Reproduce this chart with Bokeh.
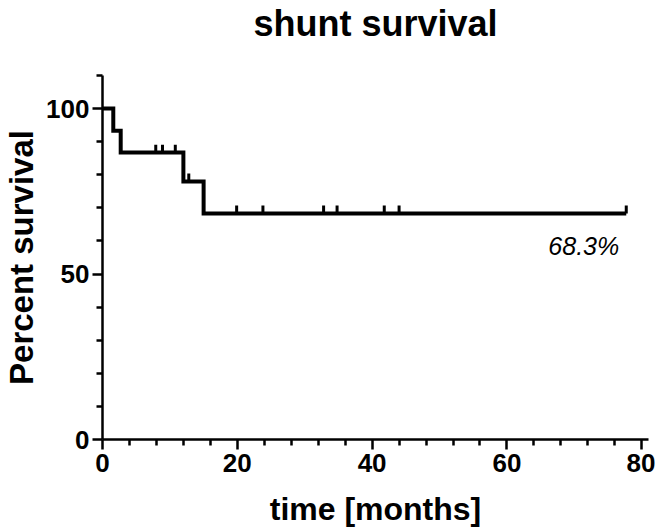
from bokeh.plotting import figure
from bokeh.models import Range1d, FixedTicker, Label, Title
from bokeh.embed import file_html
from bokeh.resources import INLINE

# Kaplan-Meier step data (months, percent survival)
step_time = [0, 1.6, 2.7, 12.0, 15.0, 77.7]
step_surv = [100, 93.3, 86.7, 78.0, 68.3, 68.3]

# censored observations
censor_time = [7.9, 8.9, 10.8, 12.8, 19.9, 23.8, 32.8, 34.8, 41.8, 44.0, 77.7]
censor_surv = [86.7, 86.7, 86.7, 78.0, 68.3, 68.3, 68.3, 68.3, 68.3, 68.3, 68.3]

x_ticks = [0, 20, 40, 60, 80]
x_minor = [4, 8, 12, 16, 24, 28, 32, 36, 44, 48, 52, 56, 64, 68, 72, 76]
y_ticks = [0, 50, 100]
y_minor = [10, 20, 30, 40, 60, 70, 80, 90, 110]

title_text = "shunt survival"
x_label_text = "time [months]"
y_label_text = "Percent survival"
final_label = "68.3%"
final_label_pos = (71.4, 58.4)

FONT = "Liberation Sans"

p = figure(width=655, height=531, output_backend="svg", toolbar_location=None,
           x_range=Range1d(0, 81), y_range=Range1d(0, 110),
           min_border_left=101, min_border_right=7, min_border_top=74, min_border_bottom=92)
p.outline_line_color = None
p.grid.visible = False
p.background_fill_color = "white"

# empty spacer between the title and the frame
spacer = Title(text=" ", text_font=FONT, text_font_size="26px", standoff=0)
p.add_layout(spacer, "above")

p.title.text = title_text
p.title.align = "center"
p.title.text_font = FONT
p.title.text_font_size = "36px"
p.title.text_font_style = "bold"
p.title.text_color = "black"
p.title.standoff = 0

for ax in (p.xaxis[0], p.yaxis[0]):
    ax.axis_line_width = 2.5
    ax.axis_line_color = "black"
    ax.major_tick_line_width = 2.5
    ax.minor_tick_line_width = 2.5
    ax.major_tick_out = 10
    ax.major_tick_in = 0
    ax.minor_tick_out = 6
    ax.minor_tick_in = 0
    ax.major_label_text_font = FONT
    ax.major_label_text_font_size = "26px"
    ax.major_label_text_font_style = "bold"
    ax.major_label_text_color = "black"
    ax.axis_label_text_font = FONT
    ax.axis_label_text_font_style = "bold"
    ax.axis_label_text_color = "black"

p.xaxis[0].ticker = FixedTicker(ticks=x_ticks, minor_ticks=x_minor)
p.yaxis[0].ticker = FixedTicker(ticks=y_ticks, minor_ticks=y_minor)
p.xaxis[0].axis_label = x_label_text
p.yaxis[0].axis_label = y_label_text
p.xaxis[0].axis_label_text_font_size = "32px"
p.yaxis[0].axis_label_text_font_size = "33px"
p.xaxis[0].major_label_standoff = 4
p.yaxis[0].major_label_standoff = 3
p.xaxis[0].axis_label_standoff = 16
p.yaxis[0].axis_label_standoff = 3

p.step(step_time, step_surv, mode="after", line_width=4, line_color="black",
       line_join="miter")

tick_h = 2.4
p.segment(x0=censor_time, y0=censor_surv, x1=censor_time,
          y1=[s + tick_h for s in censor_surv], line_width=3, line_color="black")

p.add_layout(Label(x=final_label_pos[0], y=final_label_pos[1], text=final_label,
                   text_font=FONT, text_font_size="25px", text_font_style="italic",
                   text_align="center", text_baseline="middle", text_color="black"))

open("out.html", "w").write(file_html(p, INLINE))
